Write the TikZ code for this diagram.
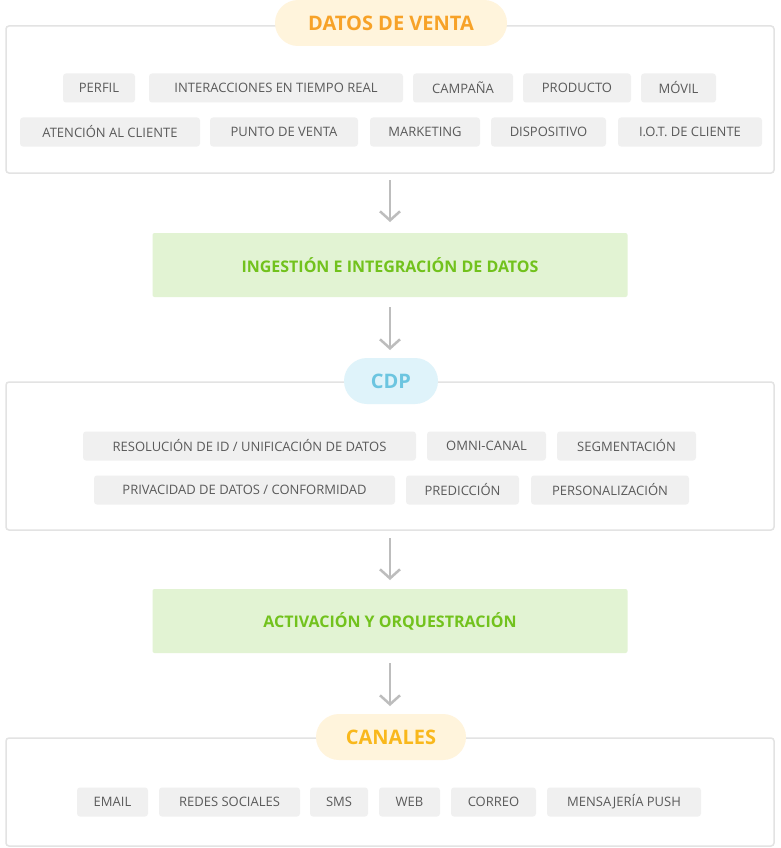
\documentclass[tikz,border=0pt]{standalone}
\usepackage{fontspec}
\setmainfont{Open Sans}
\usetikzlibrary{arrows.meta}
\definecolor{bord}{HTML}{E3E3E3}
\definecolor{chipf}{HTML}{F0F0F0}
\definecolor{chipt}{HTML}{5A5A5A}
\definecolor{orf}{HTML}{FFF4DC}
\definecolor{ort}{HTML}{F7A228}
\definecolor{yet}{HTML}{F9B81C}
\definecolor{grf}{HTML}{E2F3D3}
\definecolor{grt}{HTML}{72C21D}
\definecolor{blf}{HTML}{DFF3FA}
\definecolor{blt}{HTML}{6CC5E0}
\definecolor{arr}{HTML}{BDBDBD}
\newcommand{\mychip}[5]{\node[chip,minimum width={#3-#2}] (#1) at ({(#2+#3)/2},#4) {#5};}
\begin{document}
\begin{tikzpicture}[x=1pt,y=-1pt,
  chip/.style={fill=chipf,rounded corners=3pt,minimum height=29pt,inner sep=0pt,font=\fontsize{13}{13}\selectfont,text=chipt},
  frame/.style={draw=bord,line width=1.5pt,fill=white,rounded corners=3pt},
  pill/.style={rounded corners=23pt,minimum height=46pt,inner sep=0pt,font=\bfseries\fontsize{20}{20}\selectfont},
  stage/.style={fill=grf,rounded corners=2pt,minimum width=475pt,minimum height=64pt,font=\bfseries\fontsize{16}{16}\selectfont,text=grt},
  flow/.style={draw=arr,line width=2.5pt,-{Straight Barb[length=9pt,width=20pt,line width=2.5pt]}}]
\useasboundingbox (0,0) rectangle (780,848);
\fill[white] (0,0) rectangle (780,848);
% box 1
\node[frame,minimum width=768pt,minimum height=147pt,inner sep=0pt] (b1) at (390,99.5) {};
\node[pill,fill=orf,text=ort,minimum width=232pt] (p1) at (391,23) {DATOS DE VENTA};
\mychip{c1}{63}{135}{88}{PERFIL}
\mychip{c2}{149}{403}{88}{INTERACCIONES EN TIEMPO REAL}
\mychip{c3}{413}{513}{88}{CAMPAÑA}
\mychip{c4}{523}{631}{88}{PRODUCTO}
\mychip{c5}{641}{716}{88}{MÓVIL}
\mychip{c6}{20}{200}{132}{ATENCIÓN AL CLIENTE}
\mychip{c7}{210}{358}{132}{PUNTO DE VENTA}
\mychip{c8}{370}{480}{132}{MARKETING}
\mychip{c9}{491}{606}{132}{DISPOSITIVO}
\mychip{c10}{618}{762}{132}{I.O.T. DE CLIENTE}
% stage 1
\node[stage] (s1) at (390,265) {INGESTIÓN E INTEGRACIÓN DE DATOS};
\coordinate (a1) at (390,180); \coordinate (a1e) at (390,222);
\draw[flow] (a1) -- (a1e);
\coordinate (a2) at (390,307); \coordinate (a2e) at (390,350);
\draw[flow] (a2) -- (a2e);
% box 2
\node[frame,minimum width=768pt,minimum height=148pt,inner sep=0pt] (b2) at (390,456) {};
\node[pill,fill=blf,text=blt,minimum width=94pt] (p2) at (391,381) {CDP};
\mychip{d1}{83}{416}{446}{RESOLUCIÓN DE ID / UNIFICACIÓN DE DATOS}
\mychip{d2}{427}{546}{446}{OMNI-CANAL}
\mychip{d3}{557}{696}{446}{SEGMENTACIÓN}
\mychip{d4}{94}{395}{490}{PRIVACIDAD DE DATOS / CONFORMIDAD}
\mychip{d5}{406}{519}{490}{PREDICCIÓN}
\mychip{d6}{531}{689}{490}{PERSONALIZACIÓN}
\coordinate (a3) at (390,538); \coordinate (a3e) at (390,580);
\draw[flow] (a3) -- (a3e);
\node[stage] (s2) at (390,621) {ACTIVACIÓN Y ORQUESTRACIÓN};
\coordinate (a4) at (390,663); \coordinate (a4e) at (390,706);
\draw[flow] (a4) -- (a4e);
% box 3
\node[frame,minimum width=768pt,minimum height=108pt,inner sep=0pt] (b3) at (390,792) {};
\node[pill,fill=orf,text=yet,minimum width=150pt] (p3) at (391,737) {CANALES};
\mychip{e1}{77}{148}{802}{EMAIL}
\mychip{e2}{159}{300}{802}{REDES SOCIALES}
\mychip{e3}{310}{368}{802}{SMS}
\mychip{e4}{379}{440}{802}{WEB}
\mychip{e5}{451}{536}{802}{CORREO}
\mychip{e6}{547}{701}{802}{MENSAJERÍA PUSH}
\end{tikzpicture}
\end{document}
